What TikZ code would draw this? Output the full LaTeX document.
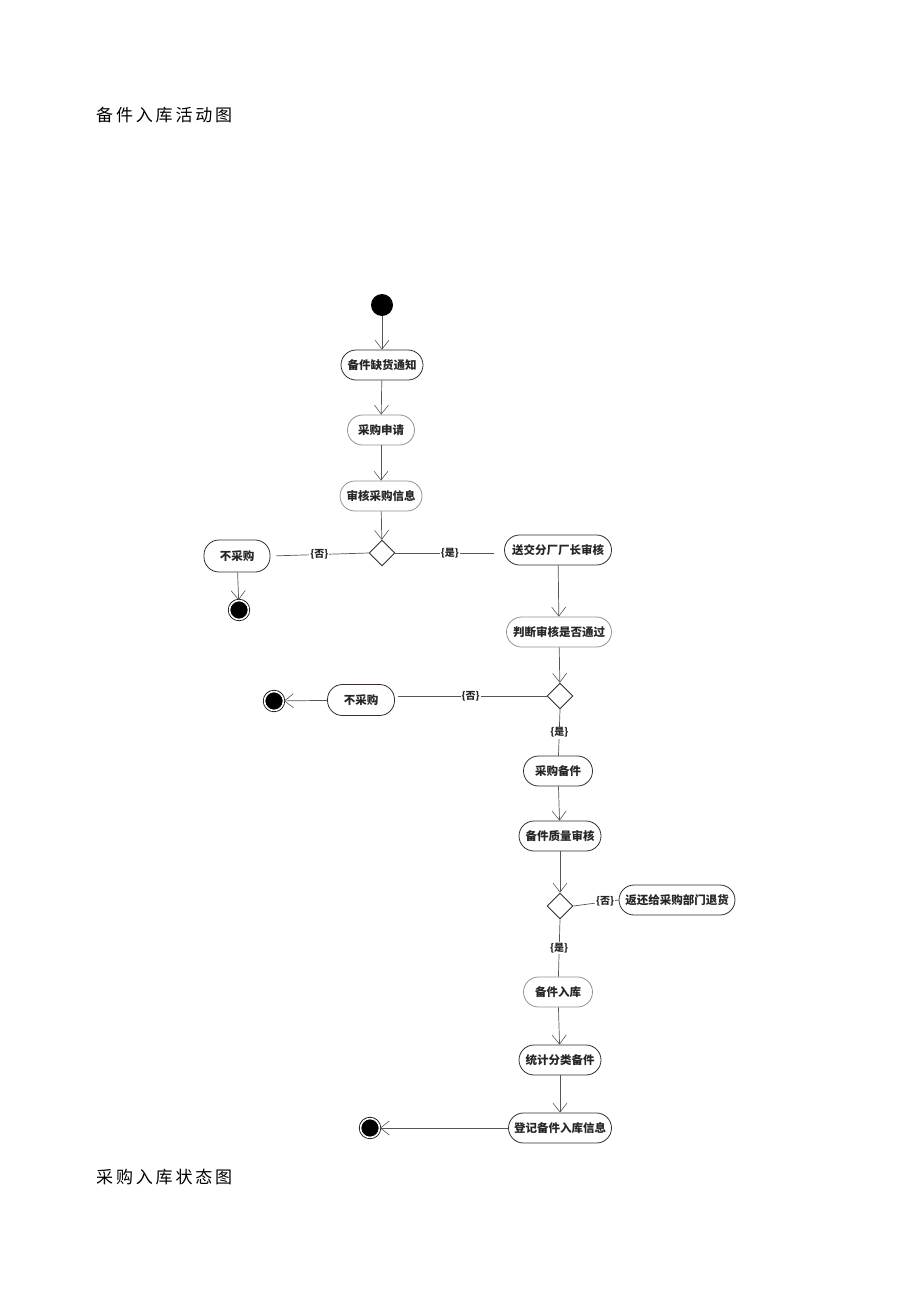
\documentclass[tikz,border=0pt]{standalone}
\usepackage{fontspec}
\newfontfamily\cjk{Noto Sans CJK SC}
\usetikzlibrary{arrows.meta,shapes.geometric}
\definecolor{darkln}{RGB}{55,40,55}
\definecolor{lightln}{RGB}{140,150,140}
\definecolor{conn}{RGB}{85,85,85}
\begin{document}
\begin{tikzpicture}[x=1pt,y=-1pt,
  act/.style={draw=darkln,line width=0.8pt,rounded corners=15pt,minimum height=30pt,inner sep=0pt,font=\cjk\bfseries\fontsize{11.5}{13}\selectfont,text=black!85},
  actl/.style={act,draw=lightln},
  dec/.style={draw=darkln,line width=0.9pt,diamond,minimum width=26pt,minimum height=26pt,inner sep=0pt},
  startn/.style={circle,fill=black,minimum size=22pt,inner sep=0pt},
  endn/.style={circle,draw=black,line width=0.8pt,fill=black,double=white,double distance=1.6pt,minimum size=19pt,inner sep=0pt},
  flow/.style={draw=conn,line width=0.7pt,-{Straight Barb[length=9pt,width=14pt,line width=0.6pt]}},
  plain/.style={draw=conn,line width=0.7pt},
  lbl/.style={fill=white,inner sep=1pt,font=\cjk\bfseries\fontsize{10}{12}\selectfont,text=black!85},
  ttl/.style={anchor=west,inner sep=0pt,font=\cjk\fontsize{17}{20}\selectfont}
]
\useasboundingbox (0,0) rectangle (920,1301);

\node[ttl] (t1) at (96,115) {备\,件\,入\,库\,活\,动\,图};
\node[ttl] (t2) at (96,1177) {采\,购\,入\,库\,状\,态\,图};

\node[startn] (s) at (382,305) {};
\node[act,minimum width=82pt] (a1) at (382,365) {备件缺货通知};
\node[actl,minimum width=67pt] (a2) at (381,430) {采购申请};
\node[actl,minimum width=82pt] (a3) at (381,496) {审核采购信息};
\node[dec] (d1) at (382,553) {};
\node[act,minimum width=66pt,minimum height=32pt] (n1) at (237,556) {不采购};
\node[endn] (e1) at (239,610) {};
\node[act,minimum width=107pt] (a4) at (558,550) {送交分厂厂长审核};
\node[actl,minimum width=105pt] (a5) at (559,632) {判断审核是否通过};
\node[dec] (d2) at (560,696) {};
\node[act,minimum width=67pt,minimum height=31pt] (n2) at (361,700) {不采购};
\node[endn] (e2) at (274,701) {};
\node[act,minimum width=69pt] (a6) at (558,771) {采购备件};
\node[act,minimum width=82pt] (a7) at (560,836) {备件质量审核};
\node[dec] (d3) at (560,906) {};
\node[act,minimum width=116pt] (r1) at (677,900) {返还给采购部门退货};
\node[actl,minimum width=69pt] (a8) at (558,992) {备件入库};
\node[act,minimum width=82pt] (a9) at (560,1060) {统计分类备件};
\node[act,minimum width=103pt] (a10) at (560,1128) {登记备件入库信息};
\node[endn] (e3) at (370,1128) {};

\draw[flow] (s) -- (a1);
\draw[flow] (a1) -- (a2);
\draw[flow] (a2) -- (a3);
\draw[flow] (a3) -- (d1);
\draw[plain,shorten >=6pt] (d1.west) -- node[lbl]{\{否\}} (n1.east);
\draw[flow] (n1) -- (e1);
\draw[plain,shorten >=10pt] (d1.east) -- node[lbl]{\{是\}} (a4.west |- d1.east);
\draw[flow] (a4) -- (a5);
\draw[flow] (a5) -- (d2);
\draw[plain,shorten >=3pt] (d2.west) -- node[lbl]{\{否\}} (n2.east |- d2.west);
\draw[flow] (n2) -- (e2);
\draw[plain] (d2.south) -- node[lbl]{\{是\}} (a6);
\draw[flow] (a6) -- (a7);
\draw[flow] (a7) -- (d3);
\draw[plain] (d3.east) -- node[lbl,pos=0.7]{\{否\}} (r1.west);
\draw[plain] (d3.south) -- node[lbl]{\{是\}} (a8);
\draw[flow] (a8) -- (a9);
\draw[flow] (a9) -- (a10);
\draw[flow] (a10) -- (e3);
\end{tikzpicture}
\end{document}
